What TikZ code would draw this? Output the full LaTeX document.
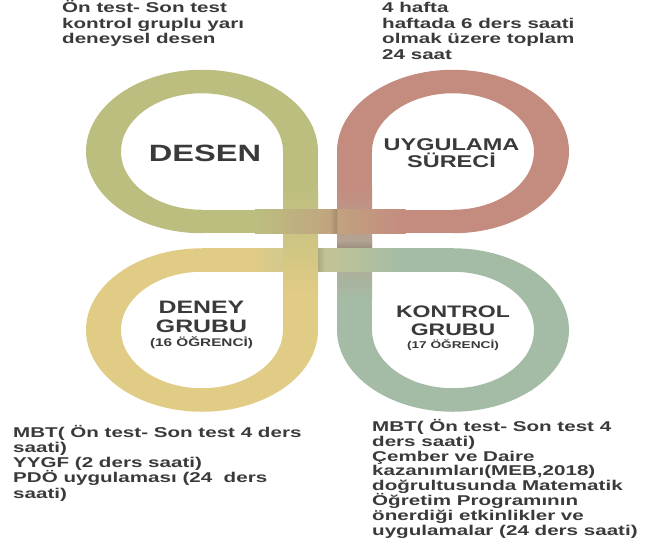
\documentclass[tikz,border=0pt]{standalone}
\usepackage{fontspec}
\setmainfont{Liberation Sans}[FakeStretch=1.38]
\newfontfamily\bodyfont{Liberation Sans}[FakeStretch=1.45]

\definecolor{cOlive}{HTML}{BCBE80}
\definecolor{cRed}{HTML}{C48B7F}
\definecolor{cYel}{HTML}{E1CC86}
\definecolor{cGrn}{HTML}{A4BCA5}
\definecolor{cInk}{HTML}{3A3A3A}
% band colours where the shadows fall
\colorlet{midTop}{cOlive!48!cRed}
\colorlet{midBot}{cYel!52!cGrn}
\colorlet{midRight}{cRed!49!cGrn}

% left-aligned and centred line stacks with a fixed line pitch
\newcommand\stackL[2]{\vtop{\baselineskip=#1\lineskiplimit=-100pt\lineskip=0pt\halign{##\hfil\cr#2\crcr}}}
\newcommand\stackC[2]{\vtop{\baselineskip=#1\lineskiplimit=-100pt\lineskip=0pt\halign{\hfil##\hfil\cr#2\crcr}}}

\begin{document}
\begin{tikzpicture}[x=1pt,y=-1pt,
  body/.style={inner sep=0pt, text=cInk, font=\bodyfont\bfseries\fontsize{14.2}{15.2}\selectfont},
  label/.style={inner sep=0pt, text=cInk, font=\bfseries}]
\useasboundingbox (0,0) rectangle (646,555);
\fill[white] (0,0) rectangle (646,555);

% ---- the four loops (curved parts) ----
\begin{scope}[shift={(202,151.5)}]
  \fill[cOlive] (0:116 and 81.75) arc[start angle=0,end angle=-270,x radius=116,y radius=81.75]
    -- (-270:81 and 58.25) arc[start angle=-270,end angle=0,x radius=81,y radius=58.25] -- cycle;
\end{scope}
\begin{scope}[shift={(453,151.5)}]
  \fill[cRed] (180:116 and 81.75) arc[start angle=180,end angle=450,x radius=116,y radius=81.75]
    -- (450:81 and 58.25) arc[start angle=450,end angle=180,x radius=81,y radius=58.25] -- cycle;
\end{scope}
\begin{scope}[shift={(202,330)}]
  \fill[cYel] (0:116 and 81.75) arc[start angle=0,end angle=270,x radius=116,y radius=81.75]
    -- (270:81 and 58.25) arc[start angle=270,end angle=0,x radius=81,y radius=58.25] -- cycle;
\end{scope}
\begin{scope}[shift={(453,330)}]
  \fill[cGrn] (180:116 and 81.75) arc[start angle=180,end angle=-90,x radius=116,y radius=81.75]
    -- (-90:81 and 58.25) arc[start angle=-90,end angle=180,x radius=81,y radius=58.25] -- cycle;
\end{scope}

% ---- straight bands, woven in the middle ----
% right vertical band
\fill[cRed] (337,151) rectangle (372,186.5);
\shade[top color=cRed, bottom color=cGrn] (337,186) rectangle (372,300.5);
\fill[cGrn] (337,300) rectangle (372,330.5);
\shade[top color=midRight, bottom color=midRight!86!black] (337,240) rectangle (372,248.5);
% lower horizontal band
\fill[cYel] (201.5,248.25) rectangle (250.5,271.75);
\shade[left color=cYel, right color=cGrn] (250,248.25) rectangle (400.5,271.75);
\fill[cGrn] (400,248.25) rectangle (453.5,271.75);
\shade[left color=midBot!86!black, right color=midBot] (318,248.25) rectangle (325,271.75);
% left vertical band
\fill[cOlive] (283,151) rectangle (318,188.5);
\shade[top color=cOlive, bottom color=cYel] (283,188) rectangle (318,295.5);
\fill[cYel] (283,295) rectangle (318,330.5);
% upper horizontal band
\fill[cOlive] (201.5,209.75) rectangle (255.5,233.25);
\shade[left color=cOlive, right color=cRed] (255,209.75) rectangle (405.5,233.25);
\fill[cRed] (405,209.75) rectangle (453.5,233.25);
\shade[left color=midTop, right color=midTop!84!black] (330,209.75) rectangle (337,233.25);

% ---- labels inside the loops ----
\node[label, font=\bfseries\fontsize{23.6}{24}\selectfont, anchor=base] (desen) at (205,161) {DESEN};
\node[label, font=\bfseries\fontsize{17}{18}\selectfont, anchor=base] (surec) at (451.5,150)
  {\stackC{17.7pt}{UYGULAMA\cr SÜRECİ}};
\node[label, font=\bfseries\fontsize{18}{19}\selectfont, anchor=base] (deney) at (201.5,313.3)
  {\stackC{19pt}{DENEY\cr GRUBU\cr\noalign{\vskip-5.3pt}{\fontsize{11.1}{12}\selectfont (16 ÖĞRENCİ)}}};
\node[label, font=\bfseries\fontsize{16.7}{18}\selectfont, anchor=base] (kontrol) at (453,317)
  {\stackC{18pt}{KONTROL\cr GRUBU\cr\noalign{\vskip-5pt}{\fontsize{9.9}{11}\selectfont (17 ÖĞRENCİ)}}};

% ---- notes around the figure ----
\node[body, anchor=base west] (desennote) at (62,12.7)
  {\stackL{15.3pt}{Ön test- Son test\cr kontrol gruplu yarı\cr deneysel desen}};
\node[body, anchor=base west] (surecnote) at (382,12.7)
  {\stackL{15.5pt}{4 hafta\cr haftada 6 ders saati\cr olmak üzere toplam\cr 24 saat}};
\node[body, anchor=base west] (deneynote) at (13,437)
  {\stackL{15.25pt}{MBT( Ön test- Son test 4 ders\cr saati)\cr YYGF (2 ders saati)\cr PDÖ uygulaması (24~ ders\cr saati)}};
\node[body, anchor=base west] (kontrolnote) at (372,431.7)
  {\stackL{14.76pt}{MBT( Ön test- Son test 4\cr ders saati)\cr Çember ve Daire\cr kazanımları(MEB,2018)\cr doğrultusunda Matematik\cr Öğretim Programının\cr önerdiği etkinlikler ve\cr uygulamalar (24 ders saati)}};
\end{tikzpicture}
\end{document}
